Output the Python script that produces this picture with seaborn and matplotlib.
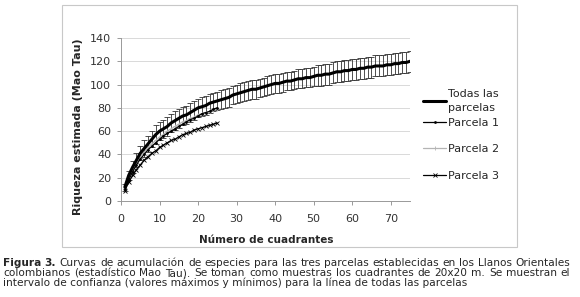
import numpy as np
import pandas as pd
import matplotlib.pyplot as plt
import seaborn as sns
from matplotlib.patches import Rectangle

# datos
cuadrantes = list(range(1, 76))
todas = [12, 22, 29, 35, 41, 45, 49, 53, 57, 60,
         62, 64, 67, 69, 71, 73, 74, 76, 78, 80,
         81, 82, 84, 85, 86, 87, 88, 89, 91, 92,
         93, 94, 95, 96, 96, 97, 98, 99, 100, 101,
         101, 102, 103, 103, 104, 105, 105, 106, 106, 107,
         108, 108, 109, 109, 110, 111, 111, 112, 112, 113,
         113, 114, 114, 115, 115, 116, 116, 116, 117, 117,
         118, 118, 119, 119, 120]
error_todas = [3, 4, 5, 6, 6, 7, 7, 7, 8, 8,
               8, 8, 8, 8, 8, 8, 8, 8, 8, 8,
               8, 8, 8, 8, 8, 8, 8, 8, 8, 8,
               8, 8, 8, 8, 8, 8, 8, 8, 8, 8,
               8, 8, 8, 8, 8, 8, 8, 8, 8, 8,
               9, 9, 9, 9, 9, 9, 9, 9, 9, 9,
               9, 9, 9, 9, 9, 9, 9, 9, 9, 9,
               9, 9, 9, 9, 9]
cuad_parcela = list(range(1, 26))
parcela1 = [10, 18, 25, 31, 36, 40, 44, 47, 50, 53,
            56, 58, 60, 62, 64, 66, 68, 70, 71, 73,
            75, 76, 77, 79, 80]
parcela2 = [11, 20, 27, 33, 38, 42, 46, 49, 52, 55,
            57, 60, 62, 64, 66, 68, 69, 71, 72, 74,
            75, 76, 77, 78, 79]
parcela3 = [9, 16, 22, 27, 31, 35, 38, 41, 43, 46,
            48, 50, 52, 53, 55, 57, 58, 59, 61, 62,
            63, 64, 65, 66, 67]

caption_lines = [
    "Figura 3. Curvas de acumulación de especies para las tres parcelas establecidas en los Llanos Orientales",
    "colombianos (estadístico Mao Tau). Se toman como muestras los cuadrantes de 20x20 m. Se muestran el",
    "intervalo de confianza (valores máximos y mínimos) para la línea de todas las parcelas",
]

df_todas = pd.DataFrame({"x": cuadrantes, "y": todas, "err": error_todas})
df_p = pd.DataFrame({"x": cuad_parcela, "p1": parcela1, "p2": parcela2, "p3": parcela3})

sns.set_style("white")
plt.rcParams["font.family"] = ["DejaVu Sans"]

fig = plt.figure(figsize=(5.8, 2.97), dpi=100)
ax = fig.add_axes([0.2086, 0.3232, 0.4983, 0.5488])

# marco del gráfico (estilo Excel)
fig.patches.append(Rectangle((62 / 580, 1 - 247 / 297), 455 / 580, 242 / 297,
                             transform=fig.transFigure, fill=False,
                             edgecolor="#c8c8c8", linewidth=0.8))

ax.errorbar(df_todas["x"], df_todas["y"], yerr=df_todas["err"], fmt="none",
            ecolor="#333333", elinewidth=0.6, capsize=2, capthick=0.6, zorder=2)
sns.lineplot(data=df_todas, x="x", y="y", ax=ax, color="black", linewidth=2.2,
             label="Todas las\nparcelas", zorder=5)
sns.lineplot(data=df_p, x="x", y="p1", ax=ax, color="black", linewidth=0.9,
             marker="o", markersize=2, markeredgecolor="black", markeredgewidth=0,
             label="Parcela 1", zorder=4)
sns.lineplot(data=df_p, x="x", y="p2", ax=ax, color="#b4b4b4", linewidth=0.9,
             marker="+", markersize=3, markeredgecolor="#b4b4b4", markeredgewidth=0.6,
             label="Parcela 2", zorder=3)
sns.lineplot(data=df_p, x="x", y="p3", ax=ax, color="black", linewidth=0.9,
             marker="x", markersize=3, markeredgecolor="black", markeredgewidth=0.6,
             label="Parcela 3", zorder=4)

ax.set_xlim(0, 75)
ax.set_ylim(0, 140)
ax.set_xticks(range(0, 71, 10))
ax.set_yticks(range(0, 141, 20))
ax.grid(axis="y", color="#d9d9d9", linewidth=0.7)
ax.set_axisbelow(True)
for s in ["top", "right"]:
    ax.spines[s].set_visible(False)
for s in ["left", "bottom"]:
    ax.spines[s].set_color("#999999")
    ax.spines[s].set_linewidth(0.7)
ax.tick_params(axis="both", labelsize=8, colors="#999999", labelcolor="#333333",
               length=3, width=0.7, direction="out")
ax.tick_params(axis="x", pad=6)
ax.tick_params(axis="y", pad=4)
ax.tick_params(axis="both", which="both", bottom=True, left=True)
ax.set_xlabel("")
ax.set_ylabel("")

fig.text(78 / 580, 1 - 127 / 297, "Riqueza estimada (Mao Tau)", rotation=90,
         ha="center", va="center", fontsize=8, fontweight="bold")
fig.text(266 / 580, 1 - 240 / 297, "Número de cuadrantes", ha="center",
         va="center", fontsize=7.5, fontweight="bold")

# leyenda en dos bloques (espaciado desigual como en el original)
handles, labels = ax.get_legend_handles_labels()
ax.get_legend().remove()
leg_kw = dict(bbox_transform=fig.transFigure, frameon=False, fontsize=8,
              handlelength=2.1, handletextpad=0.15, borderaxespad=0,
              borderpad=0, loc="upper left")
leg1 = ax.legend(handles[:2], labels[:2], bbox_to_anchor=(423 / 580, 1 - 89 / 297),
                 labelspacing=0.45, **leg_kw)
leg1.get_texts()[0].set_linespacing(1.5)
ax.add_artist(leg1)
leg2 = ax.legend(handles[2:], labels[2:], bbox_to_anchor=(423 / 580, 1 - 144 / 297),
                 labelspacing=1.55, **leg_kw)

# pie de figura, líneas 1 y 2 justificadas palabra por palabra
cap_fs = 7.6
cap_base = [265.5, 276, 286.5]
x_left, x_right = 3, 570
renderer = fig.canvas.get_renderer()
for i, line in enumerate(caption_lines):
    if i == 2:
        fig.text(x_left / 580, 1 - cap_base[i] / 297, line, fontsize=cap_fs,
                 va="baseline", ha="left")
        continue
    words = line.split(" ")
    objs = []
    for j, w in enumerate(words):
        bold = i == 0 and j < 2
        objs.append(fig.text(0, 1 - cap_base[i] / 297, w, fontsize=cap_fs,
                             fontweight="bold" if bold else "normal",
                             va="baseline", ha="left"))
    widths = [o.get_window_extent(renderer).width for o in objs]
    gap = (x_right - x_left - sum(widths)) / (len(words) - 1)
    x = x_left
    for o, wd in zip(objs, widths):
        o.set_x(x / 580)
        x += wd + gap

fig.savefig("out.png", dpi=100)
